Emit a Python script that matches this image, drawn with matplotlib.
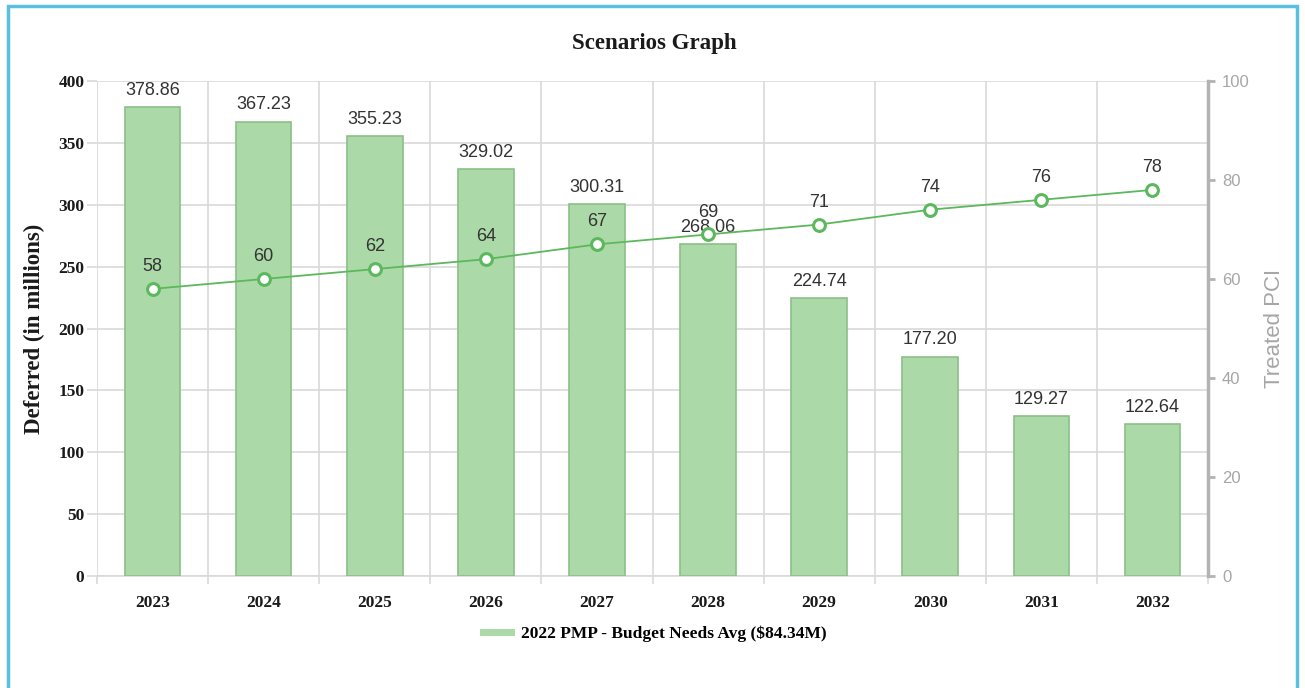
import matplotlib.pyplot as plt
import matplotlib.patches as mpatches
from matplotlib.lines import Line2D
import numpy as np

# ── Data ─────────────────────────────────────────────────────────────────────
years    = ['2023', '2024', '2025', '2026', '2027', '2028', '2029', '2030', '2031', '2032']
deferred = [378.86, 367.23, 355.23, 329.02, 300.31, 268.06, 224.74, 177.20, 129.27, 122.64]
pci      = [58, 60, 62, 64, 67, 69, 71, 74, 76, 78]
series_name = '2022 PMP - Budget Needs Avg ($84.34M)'

BAR_FILL = '#acd9a8'
BAR_EDGE = '#8cbf88'
LINE_COL = '#5cb85c'
GRID_COL = '#d9d9d9'
SERIF = 'Liberation Serif'
SANS = 'Liberation Sans'

x = np.arange(len(years))

fig = plt.figure(figsize=(13.05, 6.88), dpi=100)
ax = fig.add_axes([97 / 1305, 1 - 576 / 688, (1208 - 97) / 1305, (576 - 81) / 688])

# outer frame
fig.patches.append(mpatches.Rectangle((8 / 1305, -0.05), (1297 - 8) / 1305, 1.05 - 6 / 688,
                                      transform=fig.transFigure, fill=False,
                                      edgecolor='#5bc0de', linewidth=2.5))

# bars
ax.bar(x, deferred, 0.5, color=BAR_FILL, edgecolor=BAR_EDGE, linewidth=1.2, zorder=3)
for xi, v in zip(x, deferred):
    ax.annotate(f'{v:.2f}', (xi, v), xytext=(0, 6), textcoords='offset points',
                ha='center', va='bottom', fontsize=13, family=SANS, color='#333333', zorder=6)

ax.set_xlim(-0.5, len(years) - 0.5)
ax.set_ylim(0, 400)
ax.set_yticks(np.arange(0, 401, 50))
ax.set_xticks(x)
ax.set_xticklabels(years)
ax.set_xticks(np.arange(-0.5, len(years), 1), minor=True)
ax.tick_params(axis='x', which='major', length=0, pad=14)
ax.tick_params(axis='x', which='minor', length=6, color=GRID_COL, width=1.2)
ax.tick_params(axis='y', length=7, color=GRID_COL, width=1.2, pad=2)
for lbl in ax.get_xticklabels() + ax.get_yticklabels():
    lbl.set_family(SERIF)
    lbl.set_fontweight('bold')
    lbl.set_fontsize(12.5)
    lbl.set_color('#1a1a1a')
ax.yaxis.grid(True, color=GRID_COL, linewidth=1.2, zorder=0)
ax.xaxis.grid(True, which='minor', color=GRID_COL, linewidth=1.2, zorder=0)
ax.set_axisbelow(True)
for s in ['top', 'right', 'left']:
    ax.spines[s].set_visible(False)
ax.spines['bottom'].set_color(GRID_COL)
ax.spines['bottom'].set_linewidth(1.2)
ax.set_ylabel('Deferred (in millions)', family=SERIF, fontweight='bold', fontsize=16.5,
              color='#1a1a1a', labelpad=10)

# line on secondary axis
ax2 = ax.twinx()
ax2.plot(x, pci, color=LINE_COL, linewidth=1.3, marker='o', markersize=8.5,
         markerfacecolor='white', markeredgecolor=LINE_COL, markeredgewidth=2.2, zorder=5)
for xi, v in zip(x, pci):
    ax2.annotate(f'{v}', (xi, v), xytext=(0, 10), textcoords='offset points',
                 ha='center', va='bottom', fontsize=13, family=SANS, color='#333333')
ax2.set_ylim(0, 100)
ax2.set_yticks(np.arange(0, 101, 20))
for s in ['top', 'left', 'bottom']:
    ax2.spines[s].set_visible(False)
ax2.spines['right'].set_color('#b3b3b3')
ax2.spines['right'].set_linewidth(2.5)
ax2.tick_params(axis='y', length=5, width=2, color='#b3b3b3', labelcolor='#a6a6a6',
                labelsize=12, pad=5)
for lbl in ax2.get_yticklabels():
    lbl.set_family(SANS)
ax2.set_ylabel('Treated PCI', family=SANS, fontsize=16, color='#a6a6a6', labelpad=10)

fig.text(654 / 1305, 1 - 43 / 688, 'Scenarios Graph', ha='center', va='center',
         family=SERIF, fontweight='bold', fontsize=16.5, color='#1a1a1a')

handle = Line2D([0], [0], color=BAR_FILL, linewidth=5)
fig.legend([handle], [series_name], loc='center', bbox_to_anchor=(655 / 1305, 1 - 634 / 688),
           frameon=False, handlelength=1.6, handletextpad=0.6,
           prop={'family': SERIF, 'weight': 'bold', 'size': 12.5})

plt.savefig('out.png', dpi=100)
